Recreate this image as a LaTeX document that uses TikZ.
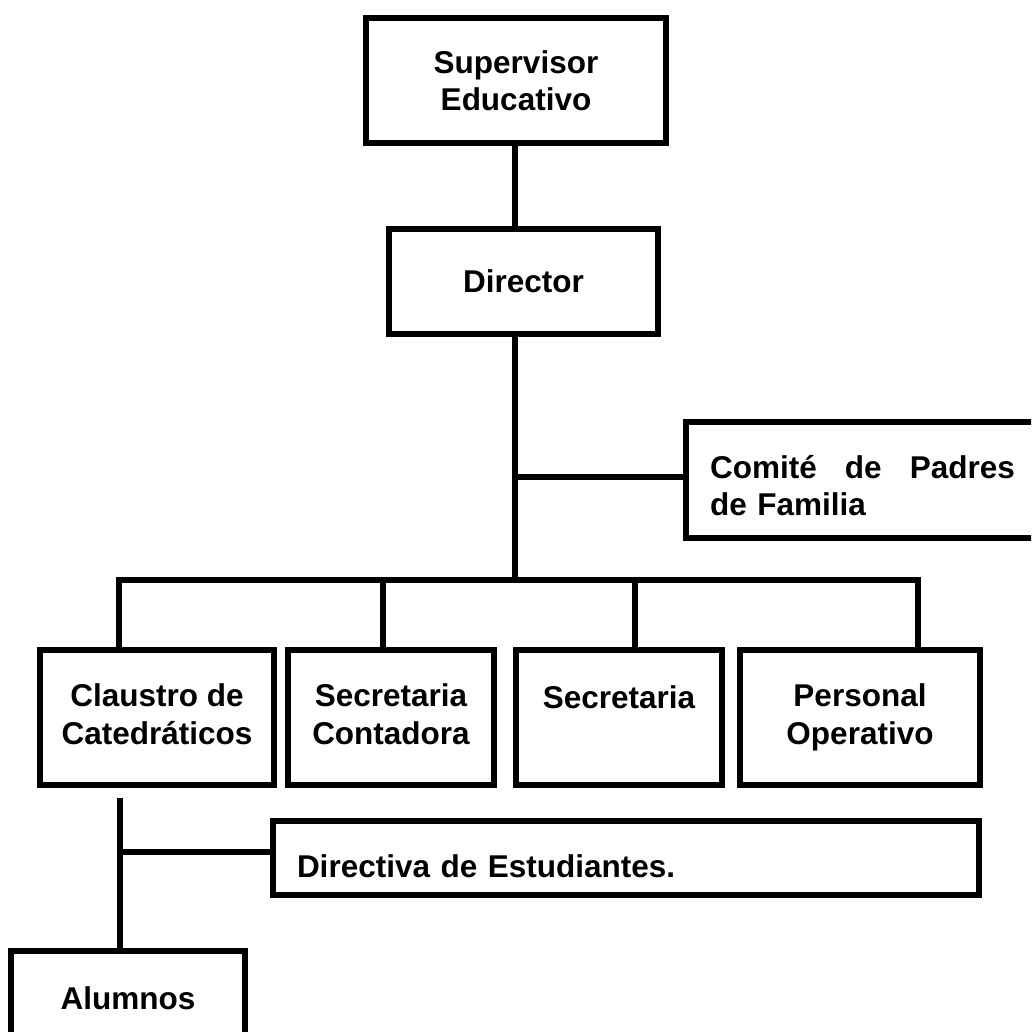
\documentclass[tikz,border=0pt]{standalone}
\usepackage{fontspec}
\setmainfont{Liberation Sans}
\begin{document}
\begin{tikzpicture}[x=1pt,y=-1pt,
  box/.style={draw, line width=6pt, inner sep=0pt, fill=white,
    font={\bfseries\fontsize{31.5}{37}\selectfont}, align=center},
  conn/.style={line width=6pt}]
\useasboundingbox (0,0) rectangle (1031,1032);
\fill[white] (0,0) rectangle (1031,1032);
\clip (0,0) rectangle (1031,1032);
% boxes
\node[box, minimum width=300pt, minimum height=125pt] (sup) at (516,80.5) {Supervisor\\Educativo};
\node[box, minimum width=269pt, minimum height=105pt] (dir) at (523.5,281.5) {Director};
\node[box, anchor=west, minimum height=116pt, text width=305pt, align=left,
      inner xsep=24pt, text height=33pt, text depth=37pt] (com) at (683,480)
      {Comité\hfill de\hfill Padres\\de Familia};
\node[box, minimum width=234pt, minimum height=135pt, font={\bfseries\fontsize{31.5}{38}\selectfont}] (cla) at (157,717.5) {Claustro de\\Catedráticos\vphantom{p}};
\node[box, minimum width=206pt, minimum height=135pt, font={\bfseries\fontsize{31.5}{38}\selectfont}] (sec1) at (391,717.5) {Secretaria\\Contadora\vphantom{p}};
\node[box, minimum width=206pt, minimum height=135pt, text height=23pt, text depth=42pt] (sec2) at (619,717.5) {Secretaria};
\node[box, minimum width=240pt, minimum height=135pt, font={\bfseries\fontsize{31.5}{38}\selectfont}] (per) at (860,717.5) {Personal\\Operativo};
\node[box, anchor=west, minimum height=74pt, text width=658pt, align=left,
      inner xsep=24pt, text height=38pt, text depth=0pt] (dire) at (270,858) {Directiva de Estudiantes.};
\node[box, minimum width=234pt, minimum height=94pt] (alu) at (128,998) {Alumnos};
% connector coordinates
\coordinate (spine) at (515,0);
\coordinate (bus) at (515,580);
\coordinate (b1) at (515,477);
\coordinate (d1) at (119,580);
\coordinate (d2) at (383,580);
\coordinate (d3) at (635,580);
\coordinate (d4) at (918,580);
\coordinate (l1) at (120,798);
\coordinate (l2) at (120,852);
% connectors
\draw[conn] (sup.south -| spine) -- (dir.north -| spine);
\draw[conn] (dir.south -| spine) -- (bus);
\draw[conn] (b1) -- (b1 -| com.west);
\draw[conn] (cla.north -| d1) -- (d1) -- (d4) -- (d4 |- per.north);
\draw[conn] (d2) -- (d2 |- sec1.north);
\draw[conn] (d3) -- (d3 |- sec2.north);
\draw[conn] (l1) -- (l1 |- alu.north);
\draw[conn] (l2) -- (l2 -| dire.west);
\end{tikzpicture}
\end{document}
